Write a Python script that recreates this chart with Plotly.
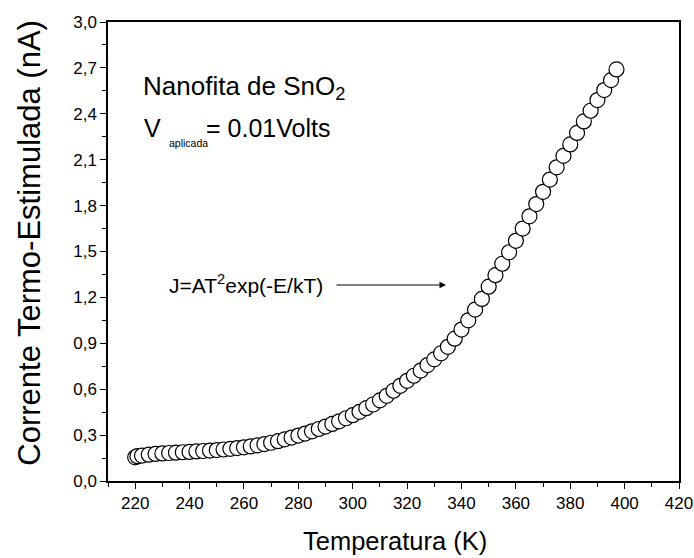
import plotly.graph_objects as go

# Temperature (K) and thermally stimulated current (nA) of the SnO2 nanobelt
temperatura = [220, 220.8, 222.5, 225, 227.5, 230, 232.5, 235, 237.5, 240,
               242.5, 245, 247.5, 250, 252.5, 255, 257.5, 260, 262.5, 265,
               267.5, 270, 272.5, 275, 277.5, 280, 282.5, 285, 287.5, 290,
               292.5, 295, 297.5, 300, 302.5, 305, 307.5, 310, 312.5, 315,
               317.5, 320, 322.5, 325, 327.5, 330, 332.5, 335, 337.5, 340,
               342.5, 345, 347.5, 350, 352.5, 355, 357.5, 360, 362.5, 365,
               367.5, 370, 372.5, 375, 377.5, 380, 382.5, 385, 387.5, 390,
               392.5, 395, 397]
corrente = [0.155, 0.162, 0.166, 0.172, 0.177, 0.180, 0.183, 0.185, 0.188, 0.190,
            0.193, 0.196, 0.199, 0.202, 0.206, 0.210, 0.215, 0.220, 0.226, 0.233,
            0.241, 0.250, 0.260, 0.272, 0.284, 0.297, 0.310, 0.325, 0.340, 0.356,
            0.373, 0.390, 0.410, 0.430, 0.452, 0.476, 0.500, 0.527, 0.557, 0.590,
            0.622, 0.655, 0.688, 0.722, 0.758, 0.795, 0.835, 0.877, 0.930, 0.990,
            1.050, 1.120, 1.190, 1.270, 1.345, 1.420, 1.495, 1.570, 1.650, 1.730,
            1.810, 1.890, 1.970, 2.050, 2.125, 2.200, 2.275, 2.350, 2.420, 2.490,
            2.555, 2.620, 2.690]

x_range = [210, 420]
y_range = [0, 3.0]

font = "Liberation Sans, Arial, sans-serif"

fig = go.Figure()
fig.add_trace(go.Scatter(
    x=temperatura, y=corrente, mode="markers",
    marker=dict(symbol="circle", size=15, color="white",
                line=dict(color="black", width=1.2)),
    showlegend=False, cliponaxis=False,
))

axis_common = dict(
    showline=True, linecolor="black", linewidth=1.5, mirror=True,
    ticks="outside", ticklen=6, tickwidth=1.2, tickcolor="black",
    showgrid=False, zeroline=False, automargin=False,
    tickfont=dict(family=font, size=17, color="black"),
)

fig.update_xaxes(
    range=x_range, tick0=200, dtick=20,
    minor=dict(ticks="outside", dtick=10, tick0=200, ticklen=4,
               tickcolor="black", tickwidth=1.2),
    **axis_common,
)
fig.update_yaxes(
    range=y_range, tick0=0, dtick=0.3, tickformat=".1f",
    minor=dict(ticks="outside", dtick=0.15, tick0=0, ticklen=4,
               tickcolor="black", tickwidth=1.2),
    **axis_common,
)

# axis titles
fig.add_annotation(
    x=0.5035, y=-0.131, xref="paper", yref="paper", xanchor="center", yanchor="middle",
    text="Temperatura (K)", showarrow=False,
    font=dict(family=font, size=25.5, color="black"),
)
fig.add_annotation(
    x=-0.138, y=0.5196, xref="paper", yref="paper", xanchor="center", yanchor="middle",
    text="Corrente Termo-Estimulada (nA)", showarrow=False, textangle=-90,
    font=dict(family=font, size=31, color="black"),
)

# sample label
fig.add_annotation(
    x=222.1, y=2.574, xref="x", yref="y", xanchor="left", yanchor="middle",
    text="Nanofita de SnO<sub>2</sub>", showarrow=False,
    font=dict(family=font, size=26, color="black"),
)
# applied voltage: V, its subscript and the value
fig.add_annotation(
    x=222.5, y=2.305, xref="x", yref="y", xanchor="left", yanchor="middle",
    text="V", showarrow=False,
    font=dict(family=font, size=25, color="black"),
)
fig.add_annotation(
    x=231.7, y=2.207, xref="x", yref="y", xanchor="left", yanchor="middle",
    text="aplicada", showarrow=False,
    font=dict(family=font, size=10.5, color="black"),
)
fig.add_annotation(
    x=245.3, y=2.305, xref="x", yref="y", xanchor="left", yanchor="middle",
    text="= 0.01Volts", showarrow=False,
    font=dict(family=font, size=25, color="black"),
)

# fitted law and arrow pointing at the curve
fig.add_annotation(
    x=231.7, y=1.288, xref="x", yref="y", xanchor="left", yanchor="middle",
    text="J=AT<sup>2</sup>exp(-E/kT)", showarrow=False,
    font=dict(family=font, size=21, color="black"),
)
fig.add_annotation(
    x=334.3, y=1.281, ax=293.5, ay=1.281, xref="x", yref="y",
    axref="x", ayref="y", text="", showarrow=True,
    arrowhead=2, arrowsize=1.3, arrowwidth=1, arrowcolor="black",
)

fig.update_layout(
    width=694, height=558,
    margin=dict(l=108, r=15, t=22, b=77),
    paper_bgcolor="white", plot_bgcolor="white",
    separators=",.",
)

fig.write_html("out.html")
